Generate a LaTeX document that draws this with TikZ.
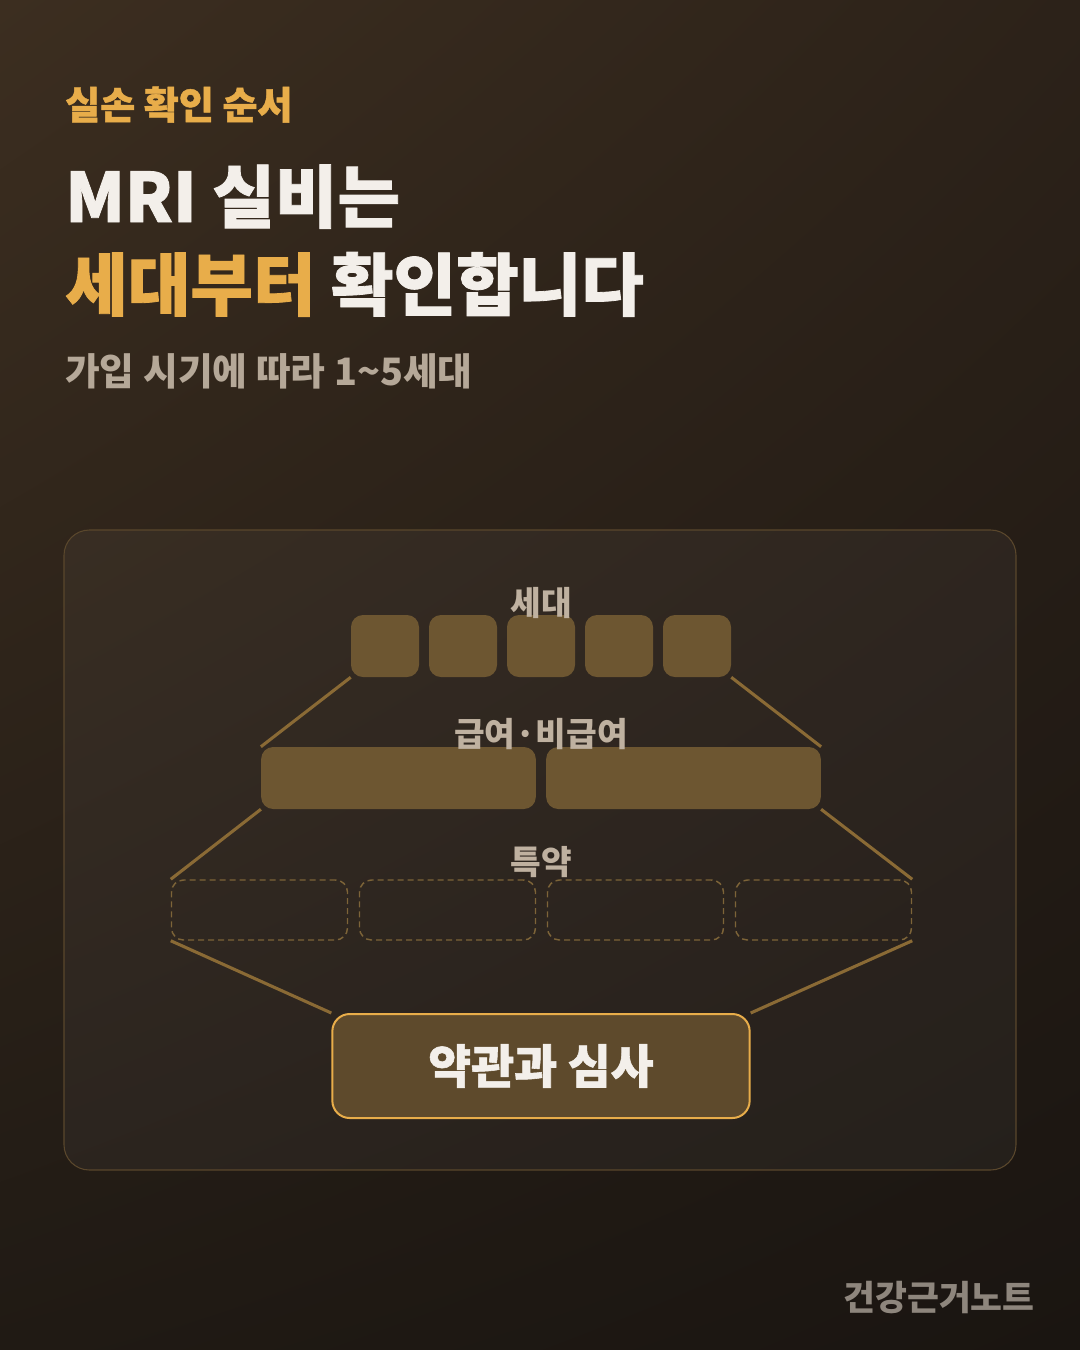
\documentclass[tikz,border=0pt]{standalone}
\usepackage{fontspec}
\usetikzlibrary{shadings}
\setmainfont{Noto Sans CJK KR}
\newfontfamily\heavykr{Noto Sans CJK KR}[BoldFeatures={FakeBold=1.2}]
\definecolor{bgUL}{HTML}{3C2E20}
\definecolor{bgUR}{HTML}{2C2219}
\definecolor{bgLL}{HTML}{201A14}
\definecolor{bgLR}{HTML}{1A1511}
\definecolor{accent}{HTML}{E8AD4A}
\definecolor{ivory}{HTML}{F3EFEA}
\definecolor{subtxt}{HTML}{B5A898}
\definecolor{lbltxt}{HTML}{BFB1A0}
\definecolor{foot}{HTML}{8E867D}
\definecolor{boxfill}{HTML}{6D5631}
\definecolor{termfill}{HTML}{5E4A2C}
\definecolor{link}{HTML}{8A6A35}
\definecolor{dashc}{HTML}{7D6438}
\definecolor{panelline}{HTML}{5A472C}
\tikzset{
  tile/.style={fill=boxfill, rounded corners=9pt, inner sep=0pt},
  slot/.style={draw=dashc, line width=1.1pt, dash pattern=on 4.5pt off 3pt,
    rounded corners=9pt, inner sep=0pt, minimum height=45pt},
  link/.style={draw=link, line width=2.3pt},
  tag/.style={text=lbltxt, font=\bfseries\fontsize{25pt}{28pt}\selectfont, inner sep=0pt}
}
\begin{document}
\begin{tikzpicture}[x=0.75pt, y=-0.75pt]
    % Fondo
    \shade[upper left=bgUL, upper right=bgUR, lower left=bgLL, lower right=bgLR]
      (0,0) rectangle (1080,1350);
    \useasboundingbox (0,0) rectangle (1080,1350);
    % Titulos
    \node[anchor=base west, inner sep=0pt, text=accent,
      font=\heavykr\bfseries\fontsize{28.5pt}{32pt}\selectfont] (kicker) at (65,119) {실손 확인 순서};
    \node[anchor=base west, inner sep=0pt, text=ivory,
      font=\heavykr\bfseries\fontsize{51pt}{60pt}\selectfont] (head1) at (65,222) {MRI 실비는};
    \node[anchor=base west, inner sep=0pt, text=ivory,
      font=\heavykr\bfseries\fontsize{51pt}{60pt}\selectfont] (head2) at (65,310)
      {\textcolor{accent}{세대부터} 확인합니다};
    \node[anchor=base west, inner sep=0pt, text=subtxt,
      font=\bfseries\fontsize{28.3pt}{32pt}\selectfont] (sub) at (65,385) {가입 시기에 따라 1\textasciitilde 5세대};
    % Panel
    \draw[panelline, line width=0.8pt, fill=white, fill opacity=0.04, rounded corners=19pt]
      (64,530) rectangle (1016,1170);
    % Cajas de generacion
    \foreach \i in {1,...,5}
      \node[tile, minimum width=51pt, minimum height=46.5pt] (g\i) at (307+78*\i,646) {};
    % Cajas de cobertura
    \node[tile, minimum width=206pt, minimum height=46.5pt] (c1) at (398.5,778) {};
    \node[tile, minimum width=206pt, minimum height=46.5pt] (c2) at (683.5,778) {};
    % Especiales
    \foreach \i in {1,...,4}
      \node[slot, minimum width=132pt] (s\i) at (71.5+188*\i,910) {};
    % Resultado
    \node[fill=termfill, draw=accent, line width=1.5pt, rounded corners=13pt,
      minimum width=313pt, minimum height=78pt, text=ivory,
      font=\heavykr\bfseries\fontsize{35pt}{40pt}\selectfont] (term) at (541,1066) {약관과 심사};
    % Etiquetas
    \node[tag] (tgen) at (541,603) {세대};
    \node[tag] (tcov) at (541,734) {급여·비급여};
    \node[tag] (trid) at (541,862) {특약};
    % Conectores
    \draw[link] (g1.south west) -- (c1.north west);
    \draw[link] (g5.south east) -- (c2.north east);
    \draw[link] (c1.south west) -- (s1.north west);
    \draw[link] (c2.south east) -- (s4.north east);
    \draw[link] (s1.south west) -- (term.north west);
    \draw[link] (s4.south east) -- (term.north east);
    % Firma
    \node[anchor=base east, inner sep=0pt, text=foot,
      font=\bfseries\fontsize{26pt}{30pt}\selectfont] (brand) at (1035,1310) {건강근거노트};
\end{tikzpicture}
\end{document}
